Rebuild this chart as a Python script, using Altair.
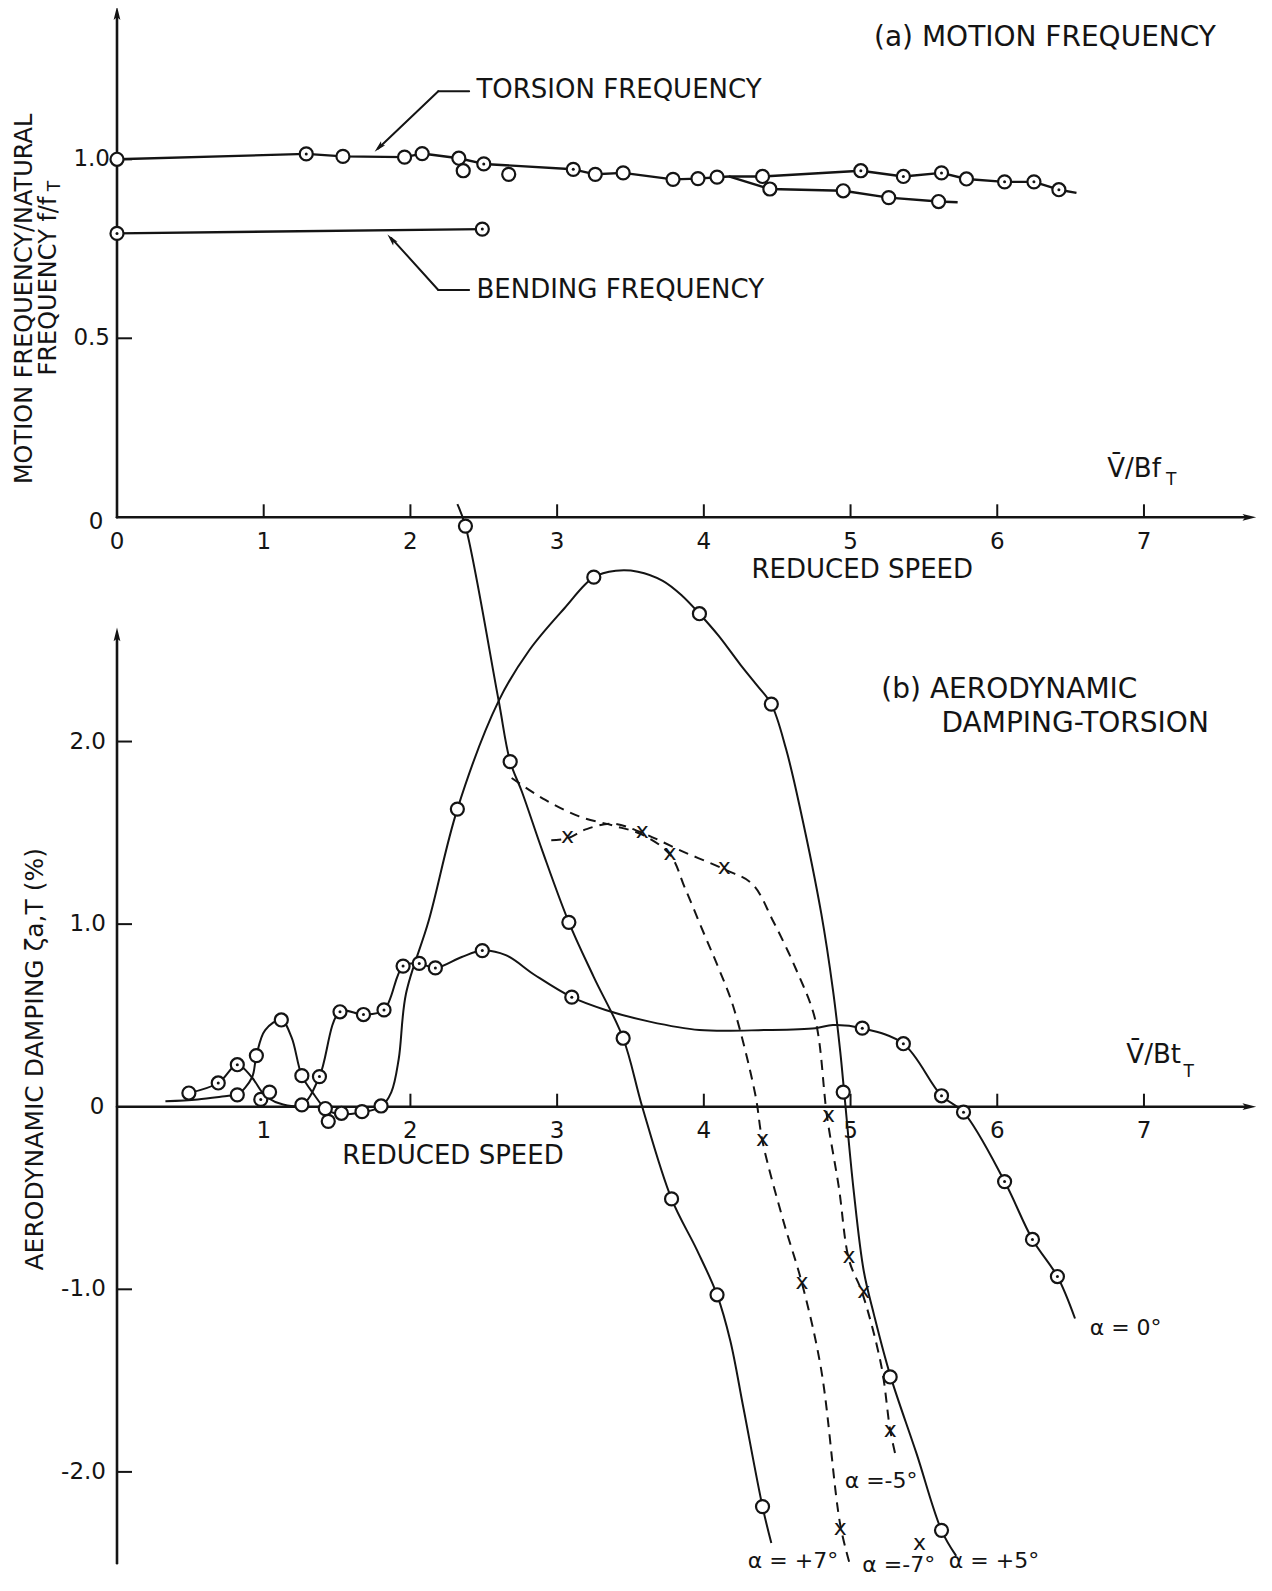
import altair as alt
import pandas as pd

FONT = "DejaVu Sans"
INK = "#141414"

# ================= (a) MOTION FREQUENCY =================
TORSION_X = [0.00, 1.29, 1.54, 1.96, 2.08, 2.33, 2.50, 3.11, 3.26, 3.45, 3.79, 3.96, 4.09, 4.17,
             4.40, 5.07, 5.36, 5.62, 5.79, 6.05, 6.25, 6.42, 6.54]
TORSION_Y = [1.000, 1.015, 1.008, 1.006, 1.016, 1.003, 0.987, 0.972, 0.958, 0.962, 0.944, 0.946,
             0.950, 0.952, 0.952, 0.968, 0.952, 0.962, 0.945, 0.937, 0.937, 0.915, 0.906]
TORSION_LOW_X = [4.17, 4.45, 4.95, 5.26, 5.60, 5.73]
TORSION_LOW_Y = [0.952, 0.917, 0.912, 0.893, 0.882, 0.880]
BENDING_X = [0.00, 2.49]
BENDING_Y = [0.793, 0.805]

TOP_MARK_X = [0.00, 1.29, 1.54, 1.96, 2.08, 2.33, 2.36, 2.50, 2.67, 3.11, 3.26, 3.45, 3.79, 3.96,
              4.09, 4.40, 5.07, 5.36, 5.62, 5.79, 6.05, 6.25, 6.42,
              4.45, 4.95, 5.26, 5.60,
              0.00, 2.49]
TOP_MARK_Y = [1.000, 1.015, 1.008, 1.006, 1.016, 1.003, 0.968, 0.987, 0.958, 0.972, 0.958, 0.962, 0.944, 0.946,
              0.950, 0.952, 0.968, 0.952, 0.962, 0.945, 0.937, 0.937, 0.915,
              0.917, 0.912, 0.893, 0.882,
              0.793, 0.805]
TOP_MARK_DOT = [0, 1, 0, 0, 0, 0, 0, 1, 0, 1, 0, 0, 0, 0,
                0, 0, 1, 1, 1, 0, 1, 1, 1,
                0, 0, 0, 0,
                1, 1]

# ================= (b) AERODYNAMIC DAMPING-TORSION =================
A0_X = [0.49, 0.69, 0.82, 0.92, 1.00, 1.10, 1.26, 1.38, 1.52, 1.68, 1.82, 1.95, 2.06, 2.17, 2.35,
        2.49, 2.65, 2.85, 3.10, 3.33, 3.63, 3.97, 4.42, 4.76, 4.88, 5.08, 5.36, 5.62, 5.77, 6.05,
        6.24, 6.41, 6.53]
A0_Y = [0.075, 0.13, 0.23, 0.16, 0.07, 0.02, 0.01, 0.165, 0.52, 0.505, 0.53, 0.77, 0.785, 0.76, 0.82,
        0.855, 0.83, 0.72, 0.60, 0.53, 0.466, 0.42, 0.42, 0.43, 0.447, 0.43, 0.345, 0.06, -0.03, -0.41,
        -0.727, -0.93, -1.16]

A5_X = [0.33, 0.55, 0.76, 0.82, 0.92, 0.95, 1.01, 1.12, 1.19, 1.26, 1.34, 1.42, 1.50, 1.67, 1.80,
        1.87, 1.92, 1.97, 2.125, 2.32, 2.60, 2.81, 3.05, 3.25, 3.40, 3.55, 3.72, 3.85, 3.97, 4.10,
        4.25, 4.36, 4.46, 4.56, 4.66, 4.80, 4.88, 4.93, 4.96, 5.02, 5.09, 5.16, 5.27, 5.45, 5.62, 5.72]
A5_Y = [0.03, 0.04, 0.06, 0.065, 0.16, 0.28, 0.42, 0.475, 0.38, 0.17, 0.07, -0.01, -0.04, -0.03, 0.0,
        0.08, 0.26, 0.62, 1.02, 1.63, 2.22, 2.50, 2.73, 2.90, 2.935, 2.93, 2.88, 2.80, 2.70, 2.58,
        2.42, 2.31, 2.205, 1.96, 1.62, 1.06, 0.64, 0.30, 0.05, -0.45, -0.90, -1.14, -1.47, -1.90, -2.32, -2.46]

A7_X = [2.32, 2.375, 2.60, 2.68, 2.76, 2.90, 3.08, 3.25, 3.45, 3.58, 3.78, 3.95, 4.09, 4.18, 4.27, 4.40, 4.46]
A7_Y = [3.30, 3.18, 2.23, 1.89, 1.725, 1.40, 1.01, 0.71, 0.375, 0.0, -0.505, -0.78, -1.03, -1.28, -1.65, -2.19, -2.39]

AM7_X = [2.69, 2.92, 3.15, 3.38, 3.58, 3.77, 3.87, 4.00, 4.10, 4.20, 4.35, 4.40, 4.54, 4.67, 4.80, 4.93, 5.00]
AM7_Y = [1.80, 1.68, 1.59, 1.54, 1.49, 1.38, 1.20, 0.95, 0.76, 0.55, 0.07, -0.19, -0.62, -0.97, -1.44, -2.29, -2.52]

AM5_X = [2.96, 3.07, 3.20, 3.38, 3.58, 3.85, 4.14, 4.33, 4.47, 4.63, 4.76, 4.84, 4.92, 4.99, 5.08,
         5.21, 5.27, 5.31]
AM5_Y = [1.46, 1.47, 1.52, 1.55, 1.50, 1.40, 1.30, 1.22, 1.02, 0.75, 0.475, -0.055, -0.44, -0.84, -1.02,
         -1.42, -1.77, -1.92]

BOT_CIRC_X = [0.49, 0.69, 0.82, 0.98, 1.04, 1.26, 1.38, 1.52, 1.68, 1.82, 1.95, 2.06, 2.17, 2.49, 3.10,
              5.08, 5.36, 5.62, 5.77, 6.05, 6.24, 6.41,
              0.82, 0.95, 1.12, 1.26, 1.42, 1.44, 1.53, 1.67, 1.80, 2.32, 3.25, 3.97, 4.46, 4.95, 5.27, 5.62,
              2.375, 2.68, 3.08, 3.45, 3.78, 4.09, 4.40]
BOT_CIRC_Y = [0.075, 0.13, 0.23, 0.04, 0.08, 0.01, 0.165, 0.52, 0.505, 0.53, 0.77, 0.785, 0.76, 0.855, 0.60,
              0.43, 0.345, 0.06, -0.03, -0.41, -0.727, -0.93,
              0.065, 0.28, 0.475, 0.17, -0.01, -0.08, -0.036, -0.027, 0.004, 1.63, 2.90, 2.70, 2.205, 0.08, -1.48, -2.32,
              3.18, 1.89, 1.01, 0.375, -0.505, -1.03, -2.19]
BOT_CIRC_DOT = [0, 1, 1, 1, 0, 0, 1, 1, 1, 1, 1, 1, 1, 1, 1,
                1, 1, 1, 1, 1, 1, 1,
                0, 0, 0, 0, 0, 0, 0, 0, 0, 0, 0, 0, 0, 0, 0, 0,
                0, 0, 0, 0, 0, 0, 0]

BOT_CROSS_X = [3.07, 3.58, 3.77, 4.14, 4.40, 4.67, 4.85, 4.93, 4.99, 5.09, 5.27, 5.47]
BOT_CROSS_Y = [1.47, 1.50, 1.38, 1.30, -0.19, -0.97, -0.055, -2.32, -0.83, -1.02, -1.78, -2.40]

ALPHA_LABELS = ["α = 0°", "α =-5°", "α = +7°", "α =-7°", "α = +5°"]
ALPHA_LABEL_X = [6.63, 4.96, 4.30, 5.08, 5.67]
ALPHA_LABEL_Y = [-1.21, -2.05, -2.49, -2.51, -2.49]

# ---- axes ----
X_TICKS = [1, 2, 3, 4, 5, 6, 7]
X_TICK_LABELS = ["1", "2", "3", "4", "5", "6", "7"]
TOP_Y_TICKS = [0.5, 1.0]
TOP_Y_TICK_LABELS = ["0.5", "1.0"]
BOT_Y_TICKS = [-2.0, -1.0, 1.0, 2.0]
BOT_Y_TICK_LABELS = ["-2.0", "-1.0", "1.0", "2.0"]
X_AXIS_END = 7.70
TOP_Y_AXIS_END = 1.40
BOT_Y_AXIS_START = -2.50
BOT_Y_AXIS_END = 2.57

# ---------------------------------------------------------------
W, H = 1137, 1560
XS = alt.Scale(domain=[0, 7.75], nice=False, zero=False)
YS = {
    "top": alt.Scale(domain=[0, 1.41], range=[507.3, 2.5], nice=False, zero=False),
    "bot": alt.Scale(domain=[-2.5, 2.59], range=[1553.2, 623.8], nice=False, zero=False),
}


def xe(f="x"):
    return alt.X(f"{f}:Q", scale=XS, axis=None)


def ye(panel, f="y"):
    return alt.Y(f"{f}:Q", scale=YS[panel], axis=None)


def segs(rows, panel, width=2.4):
    df = pd.DataFrame(rows, columns=["x", "y", "x2", "y2"])
    return alt.Chart(df).mark_rule(color=INK, strokeWidth=width, strokeCap="round").encode(
        x=xe(), y=ye(panel), x2="x2:Q", y2="y2:Q")


def xticks(vals, panel):
    df = pd.DataFrame({"x": vals, "y": [0] * len(vals)})
    return alt.Chart(df).mark_rule(color=INK, strokeWidth=2, y2Offset=-13).encode(
        x=xe(), y=ye(panel), y2="y:Q")


def yticks(vals, panel):
    df = pd.DataFrame({"y": vals, "x": [0] * len(vals)})
    return alt.Chart(df).mark_rule(color=INK, strokeWidth=2, x2Offset=15).encode(
        x=xe(), y=ye(panel), x2="x:Q")


def texts(xs, ys, labels, panel, **kw):
    df = pd.DataFrame({"x": xs, "y": ys, "t": labels})
    opts = dict(font=FONT, color=INK, fontSize=22, baseline="middle", align="left")
    opts.update(kw)
    return alt.Chart(df).mark_text(**opts).encode(x=xe(), y=ye(panel), text="t:N")


def curve(xs, ys, panel, dash=None, interp="catmull-rom", width=2.0):
    df = pd.DataFrame({"x": xs, "y": ys, "i": list(range(len(xs)))})
    kw = dict(color=INK, strokeWidth=width, interpolate=interp, strokeJoin="round")
    if dash:
        kw["strokeDash"] = dash
    return alt.Chart(df).mark_line(**kw).encode(x=xe(), y=ye(panel), order="i:Q")


def circles(xs, ys, dots, panel):
    df = pd.DataFrame({"x": xs, "y": ys, "dot": dots})
    ring = alt.Chart(df).mark_point(shape="circle", filled=True, fill="white", stroke=INK,
                                    strokeWidth=2.2, size=170, opacity=1).encode(x=xe(), y=ye(panel))
    dot = alt.Chart(df).transform_filter("datum.dot == 1").mark_point(
        shape="circle", filled=True, fill=INK, stroke=None, size=9, opacity=1).encode(x=xe(), y=ye(panel))
    return [ring, dot]


ARROW = "M0,-1L0.42,0.7L0,0.35L-0.42,0.7Z"


def arrowhead(x, y, panel, angle, size=260):
    df = pd.DataFrame({"x": [x], "y": [y]})
    return alt.Chart(df).mark_point(shape=ARROW, filled=True, fill=INK, stroke=None, size=size,
                                    angle=angle, opacity=1).encode(x=xe(), y=ye(panel))


layers = []

# ---- axes lines ----
layers.append(segs([[0, 0, 0, TOP_Y_AXIS_END], [0, 0, X_AXIS_END, 0]], "top", 2.6))
layers.append(segs([[0, BOT_Y_AXIS_START, 0, BOT_Y_AXIS_END], [0, 0, X_AXIS_END, 0]], "bot", 2.6))
layers.append(arrowhead(0, 1.405, "top", 0))
layers.append(arrowhead(7.71, 0, "top", 90))
layers.append(arrowhead(0, 2.58, "bot", 0))
layers.append(arrowhead(7.71, 0, "bot", 90))
layers.append(xticks(X_TICKS, "top"))
layers.append(xticks(X_TICKS, "bot"))
layers.append(yticks(TOP_Y_TICKS, "top"))
layers.append(yticks(BOT_Y_TICKS, "bot"))

# tick labels
layers.append(texts([0] + X_TICKS, [0] * 8, ["0"] + X_TICK_LABELS, "top", align="center", dy=25, fontSize=23))
layers.append(texts(X_TICKS, [0] * 7, X_TICK_LABELS, "bot", align="center", dy=24, fontSize=23))
layers.append(texts([0] * 2, TOP_Y_TICKS, TOP_Y_TICK_LABELS, "top", align="right", dx=-7, fontSize=23))
layers.append(texts([0], [0], ["0"], "top", align="center", dx=-21, dy=5, fontSize=23))
layers.append(texts([0] * 4, BOT_Y_TICKS, BOT_Y_TICK_LABELS, "bot", align="right", dx=-11, fontSize=23))
layers.append(texts([0], [0], ["0"], "bot", align="center", dx=-20, fontSize=23))

# axis titles
layers.append(texts([-0.63], [0.61], ["MOTION FREQUENCY/NATURAL"], "top", angle=270, align="center", fontSize=24))
layers.append(texts([-0.465], [0.646], ["FREQUENCY f/f"], "top", angle=270, align="center", fontSize=24))
layers.append(texts([-0.42], [0.925], ["T"], "top", angle=270, align="center", fontSize=17))
layers.append(texts([-0.56], [0.26], ["AERODYNAMIC DAMPING ζa,T (%)"], "bot", angle=270, align="center", fontSize=25))
layers.append(texts([5.08], [-0.147], ["REDUCED SPEED"], "top", align="center", fontSize=26))
layers.append(texts([2.29], [-0.272], ["REDUCED SPEED"], "bot", align="center", fontSize=26))
layers.append(texts([6.75], [0.136], ["V\u0304/Bf"], "top", fontSize=26))
layers.append(texts([7.15], [0.105], ["T"], "top", fontSize=17))
layers.append(texts([6.88], [0.285], ["V\u0304/Bt"], "bot", fontSize=26))
layers.append(texts([7.27], [0.19], ["T"], "bot", fontSize=17))

# panel titles
layers.append(texts([5.16], [1.34], ["(a) MOTION FREQUENCY"], "top", fontSize=28))
layers.append(texts([5.21], [2.283], ["(b) AERODYNAMIC"], "bot", fontSize=28))
layers.append(texts([5.62], [2.095], ["DAMPING-TORSION"], "bot", fontSize=28))

# annotations (a)
layers.append(segs([[1.78, 1.03, 2.19, 1.19], [2.19, 1.19, 2.40, 1.19],
                    [1.87, 0.78, 2.19, 0.635], [2.19, 0.635, 2.40, 0.635]], "top", 2.0))
layers.append(arrowhead(1.79, 1.035, "top", 225, size=200))
layers.append(arrowhead(1.875, 0.775, "top", 319, size=200))
layers.append(texts([2.45], [1.193], ["TORSION FREQUENCY"], "top", fontSize=26))
layers.append(texts([2.45], [0.635], ["BENDING FREQUENCY"], "top", fontSize=26))

# curves (a)
layers.append(curve(TORSION_X, TORSION_Y, "top", interp="linear", width=2.4))
layers.append(curve(TORSION_LOW_X, TORSION_LOW_Y, "top", interp="linear", width=2.4))
layers.append(curve(BENDING_X, BENDING_Y, "top", interp="linear", width=2.4))
layers += circles(TOP_MARK_X, TOP_MARK_Y, TOP_MARK_DOT, "top")

# curves (b)
layers.append(curve(A0_X, A0_Y, "bot"))
layers.append(curve(A5_X, A5_Y, "bot"))
layers.append(curve(A7_X, A7_Y, "bot"))
layers.append(curve(AM7_X, AM7_Y, "bot", dash=[10, 7]))
layers.append(curve(AM5_X, AM5_Y, "bot", dash=[10, 7]))
layers += circles(BOT_CIRC_X, BOT_CIRC_Y, BOT_CIRC_DOT, "bot")
layers.append(texts(BOT_CROSS_X, BOT_CROSS_Y, ["x"] * len(BOT_CROSS_X), "bot", align="center", fontSize=22, dy=-2))
layers.append(texts(ALPHA_LABEL_X, ALPHA_LABEL_Y, ALPHA_LABELS, "bot", fontSize=22))

chart = (
    alt.layer(*layers)
    .resolve_scale(y="independent")
    .properties(width=W, height=H,
                padding={"left": 109, "top": 2, "right": 10, "bottom": 8},
                autosize=alt.AutoSizeParams(type="none"),
                background="white")
    .configure_view(stroke=None)
)

chart.save("out.html", embed_options={"renderer": "svg", "actions": False})
